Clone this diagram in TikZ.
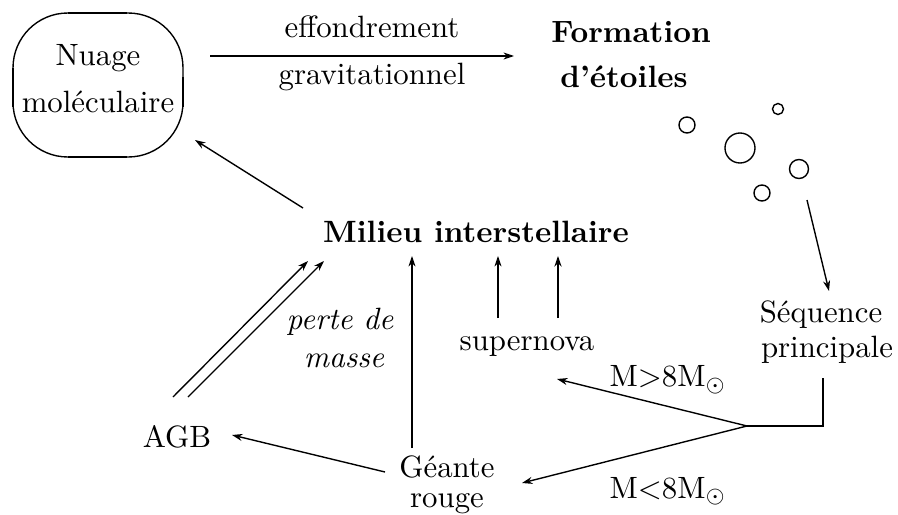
\documentclass[tikz,border=0pt]{standalone}
\usetikzlibrary{arrows.meta}
\begin{document}
\begin{tikzpicture}[x=0.3245pt,y=-0.3245pt,
  lbl/.style={inner sep=0pt,anchor=base,font=\fontsize{10}{12}\selectfont},
  blbl/.style={lbl,font=\fontsize{10}{12}\selectfont\bfseries},
  ilbl/.style={lbl,font=\fontsize{10}{12}\selectfont\itshape},
  arr/.style={-{Stealth[length=3.4pt,width=2.3pt]},line width=0.45pt},
  tarr/.style={arr,line width=0.9pt},
  star/.style={line width=0.45pt}]
\useasboundingbox (0,0) rectangle (898,515);
% cloud box
\draw[line width=0.45pt,rounded corners=17.8pt] (13,13) rectangle (183,157);
\draw[line width=0.9pt] (68,13) -- (127,13) (68,157) -- (127,157) (13,68) -- (13,107) (183,77) -- (183,107);
\node[lbl] (nuage) at (98,65) {Nuage};
\node[lbl] (mol) at (98,112) {moléculaire};
% collapse
\node[lbl] (eff) at (372,37) {effondrement};
\node[lbl] (grav) at (372,84) {gravitationnel};
\coordinate (c1) at (210,56);
\coordinate (c2) at (514,56);
\draw[arr] (c1) -- (c2);
\node[blbl] (form) at (631,42) {Formation};
\node[blbl] (etoiles) at (624,87) {d'étoiles};
% stars
\draw[star] (687,125) circle (8) (740,148) circle (15) (778,109) circle (5.5) (799,169) circle (9.5) (762,193) circle (8);
\coordinate (s1) at (807,200);
\coordinate (s2) at (829,291);
\draw[arr] (s1) -- (s2);
\node[lbl] (seq) at (821,322) {Séquence};
\node[lbl] (princ) at (827,358) {principale};
\coordinate (p1) at (823,378);
\coordinate (fork) at (747,426);
\draw[line width=0.9pt] (p1) |- (fork);
% ISM
\node[blbl] (mis) at (476,242) {Milieu interstellaire};
\coordinate (m1) at (303,208);
\coordinate (m2) at (195,140);
\draw[arr] (m1) -- (m2);
% supernova
\node[lbl] (sn) at (527,350) {supernova};
\coordinate (sn1a) at (498,318);
\coordinate (sn1b) at (498,256);
\coordinate (sn2a) at (558,318);
\coordinate (sn2b) at (558,256);
\draw[arr] (sn1a) -- (sn1b);
\draw[tarr] (sn2a) -- (sn2b);
\coordinate (f1) at (557,379);
\coordinate (f2) at (522,483);
\draw[arr] (fork) -- (f1);
\draw[arr] (fork) -- (f2);
\node[lbl] (mgt) at (668,387) {M$>$8M$_\odot$};
\node[lbl] (mlt) at (668,498) {M$<$8M$_\odot$};
% red giant
\node[lbl] (geante) at (447,478) {Géante};
\node[lbl] (rouge) at (447,507) {rouge};
\coordinate (g1) at (412,448);
\coordinate (g2) at (412,256);
\draw[arr] (g1) -- (g2);
\coordinate (g3) at (385,472);
\coordinate (g4) at (232,435);
\draw[arr] (g3) -- (g4);
% AGB
\node[lbl] (agb) at (177,447) {AGB};
\coordinate (a1) at (173,397);
\coordinate (a2) at (308,261);
\coordinate (a3) at (188,397);
\coordinate (a4) at (324,261);
\draw[arr] (a1) -- (a2);
\draw[arr] (a3) -- (a4);
\node[ilbl] (perte) at (340,330) {perte de};
\node[ilbl] (masse) at (344,367) {masse};
\end{tikzpicture}
\end{document}
